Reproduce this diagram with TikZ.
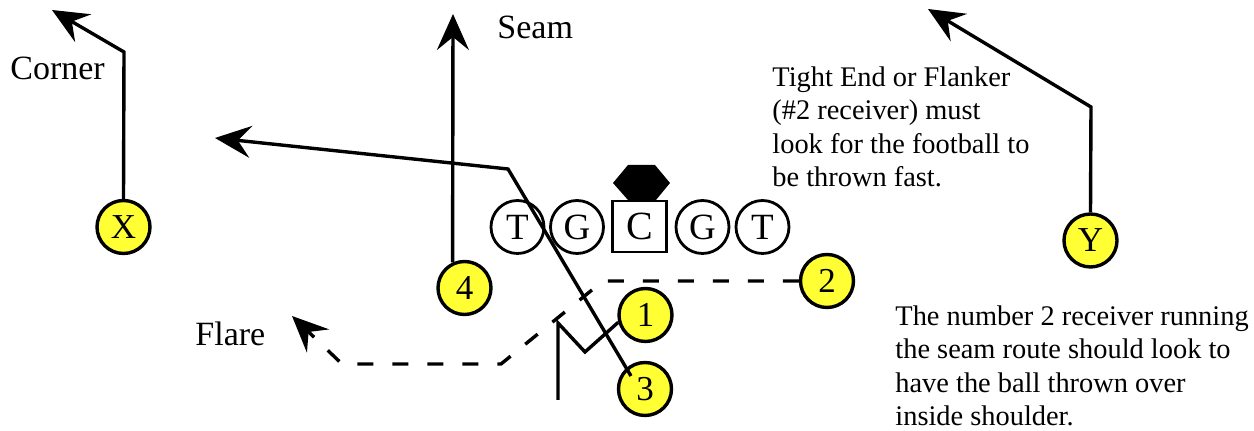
\documentclass[tikz,border=0pt]{standalone}
\usepackage{fontspec}
\setmainfont{Liberation Serif}
\usetikzlibrary{arrows.meta,calc}
\definecolor{plyellow}{RGB}{255,255,51}
\begin{document}
\begin{tikzpicture}[x=0.5pt,y=-0.5pt,
  route/.style={line width=1.7pt},
  arr/.style={-{Stealth[length=18pt,width=16pt,inset=6.5pt]}},
  dashroute/.style={route,dash pattern=on 8pt off 9.5pt},
  player/.style={circle,draw,line width=1.7pt,fill=plyellow,minimum size=26.5pt,inner sep=0pt,font=\fontsize{17.5}{17.5}\selectfont},
  lineman/.style={circle,draw,line width=1.4pt,fill=white,minimum size=26.5pt,inner sep=0pt,font=\fontsize{18.5}{18.5}\selectfont},
  centerbox/.style={rectangle,draw,line width=1.4pt,fill=white,minimum width=27pt,minimum height=25.5pt,inner sep=0pt,font=\fontsize{20}{20}\selectfont},
  label/.style={anchor=base west,inner sep=0pt,font=\fontsize{17}{17}\selectfont},
  note/.style={anchor=base west,inner sep=0pt,align=left,font=\fontsize{14.2}{16.8}\selectfont}
]
\useasboundingbox (0,0) rectangle (1254,431);

% offensive line
\node[lineman] (T1) at (517.5,227) {T};
\node[lineman] (G1) at (577,227) {G};
\node[centerbox] (C) at (639.5,226.5) {C};
\node[lineman] (G2) at (702.5,227) {G};
\node[lineman] (T2) at (762.5,227) {T};
\fill (628,165) -- (655,165) -- (670,183) -- (656,200) -- (628,200) -- (613,183) -- cycle;

% receivers / backs
\node[player] (X) at (123.5,227) {X};
\node[player] (Y) at (1090.5,240.5) {Y};
\node[player] (n4) at (464.5,288) {4};
\node[player] (n2) at (827,281) {2};
\node[player] (n1) at (645.5,315) {1};
\node[player] (n3) at (645,389) {3};

% coordinates
\coordinate (xbend) at (124,52);
\coordinate (xtip) at (52,10);
\coordinate (seamtip) at (453,14);
\coordinate (ybend) at (1091,107);
\coordinate (ytip) at (928,9);
\coordinate (lbend) at (508,169);
\coordinate (ltip) at (215,138);
\coordinate (vbot) at (585,352);
\coordinate (vtop) at (558,323);
\coordinate (vend) at (558,400);
\coordinate (d1) at (603,281);
\coordinate (d2) at (501,364);
\coordinate (d3) at (342,364);
\coordinate (ftip) at (292,316);

% routes
\draw[route,arr] (X.north) -- (xbend) -- (xtip);
\draw[route,arr] (n4.115) -- (seamtip);
\draw[route,arr] (Y.north) -- (ybend) -- (ytip);
\draw[route,arr] ($(n3.center)+(-14,-13)$) -- (lbend) -- (ltip);
\draw[route] (n1.195) -- (vbot) -- (vtop) -- (vend);
\draw[dashroute,arr] (n2.west) -- (d1) -- (d2) -- (d3) -- (ftip);

% labels
\node[label] (corner) at (10,80) {Corner};
\node[label] (seam) at (497,39) {Seam};
\node[label] (flare) at (195,346) {Flare};
\node[note] (note1) at (772,187) {Tight End or Flanker\\(\#2 receiver) must\\look for the football to\\be thrown fast.};
\node[note] (note2) at (895,426) {The number 2 receiver running\\the seam route should look to\\have the ball thrown over\\inside shoulder.};
\end{tikzpicture}
\end{document}
